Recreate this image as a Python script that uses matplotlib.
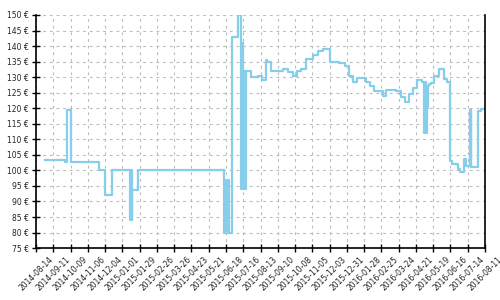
import matplotlib
matplotlib.use("Agg")
from matplotlib import pyplot as plt
import matplotlib.dates as mdates
from matplotlib.ticker import FuncFormatter, MultipleLocator
import pandas as pd

# price history, step changes (date -> price in euro)
changeDates = [
    "2014-08-28", "2014-09-30", "2014-10-04", "2014-10-10", "2014-11-24",
    "2014-12-04", "2014-12-16", "2015-01-14", "2015-01-15", "2015-01-16",
    "2015-01-17", "2015-01-27", "2015-06-15", "2015-06-16", "2015-06-17",
    "2015-06-18", "2015-06-19", "2015-06-20", "2015-06-21", "2015-06-22",
    "2015-06-23", "2015-06-27", "2015-07-08", "2015-07-12", "2015-07-13",
    "2015-07-14", "2015-07-15", "2015-07-16", "2015-07-17", "2015-07-18",
    "2015-07-19", "2015-07-20", "2015-07-28", "2015-08-09", "2015-08-16",
    "2015-08-22", "2015-08-24", "2015-08-30", "2015-09-19", "2015-09-27",
    "2015-10-05", "2015-10-11", "2015-10-17", "2015-10-25", "2015-11-06",
    "2015-11-15", "2015-11-22", "2015-12-04", "2015-12-19", "2015-12-28",
    "2016-01-04", "2016-01-10", "2016-01-16", "2016-01-31", "2016-02-06",
    "2016-02-13", "2016-02-27", "2016-03-04", "2016-03-19", "2016-03-27",
    "2016-04-03", "2016-04-10", "2016-04-16", "2016-04-22", "2016-05-01",
    "2016-05-04", "2016-05-05", "2016-05-06", "2016-05-07", "2016-05-08",
    "2016-05-09", "2016-05-10", "2016-05-13", "2016-05-16", "2016-05-20",
    "2016-05-28", "2016-06-05", "2016-06-11", "2016-06-16", "2016-06-18",
    "2016-06-29", "2016-07-01", "2016-07-08", "2016-07-11", "2016-07-17",
    "2016-07-18", "2016-07-19", "2016-07-20", "2016-07-30", "2016-08-04",
    "2016-08-07",
]
prices = [
    103.5, 102.6, 119.3, 102.6, 100.2,
    92.0, 100.2, 84.0, 100.0, 84.0,
    93.8, 100.0, 80.0, 97.0, 80.0,
    97.0, 80.0, 97.0, 80.0, 97.0,
    80.0, 143.0, 150.0, 141.0, 94.0,
    141.0, 94.0, 132.0, 94.0, 132.0,
    94.0, 132.0, 130.1, 130.5, 129.0,
    135.5, 134.8, 132.1, 132.6, 131.5,
    130.4, 132.0, 132.6, 135.8, 137.1,
    138.4, 139.1, 135.0, 134.7, 133.7,
    130.5, 128.3, 129.6, 128.5, 127.1,
    125.6, 123.9, 125.9, 125.5, 123.7,
    122.1, 124.6, 126.4, 129.1, 128.5,
    112.0, 128.5, 112.0, 128.5, 112.0,
    120.0, 127.3, 127.8, 128.2, 130.5,
    132.6, 129.4, 128.5, 103.0, 102.0,
    100.6, 99.6, 103.6, 101.4, 119.4,
    101.4, 119.4, 101.2, 119.2, 119.6,
    119.6,
]

# x ticks every 28 days
tickStart = "2014-08-14"
tickEnd = "2016-08-11"


def main():
    dates = pd.to_datetime(changeDates)
    ticks = pd.date_range(tickStart, tickEnd, freq="28D")

    fig = plt.figure(figsize=(5, 3), dpi=100)
    ax = fig.add_axes([0.072, 0.173, 0.898, 0.777])

    ax.step(dates, prices, where="post", color="#87ceeb", linewidth=1.6)

    ax.set_xlim(ticks[0], ticks[-1])
    ax.set_ylim(75, 150)
    ax.set_xticks(ticks)
    ax.xaxis.set_major_formatter(mdates.DateFormatter("%Y-%m-%d"))
    ax.yaxis.set_major_locator(MultipleLocator(5))
    ax.yaxis.set_major_formatter(FuncFormatter(lambda v, p: f"{v:.0f} €"))

    for lbl in ax.get_xticklabels():
        lbl.set_rotation(45)

    ax.tick_params(axis="both", direction="inout", length=6, width=1,
                   labelsize=5.5, colors="black", labelcolor="#222222", pad=2)
    ax.grid(True, color="#bbbbbb", linestyle=(0, (2.5, 3.5)), linewidth=0.8)
    ax.set_axisbelow(True)

    ax.spines["top"].set_visible(False)
    for side in ["left", "bottom", "right"]:
        ax.spines[side].set_linewidth(1.2)

    fig.savefig("out.png", dpi=100)


if __name__ == "__main__":
    main()
